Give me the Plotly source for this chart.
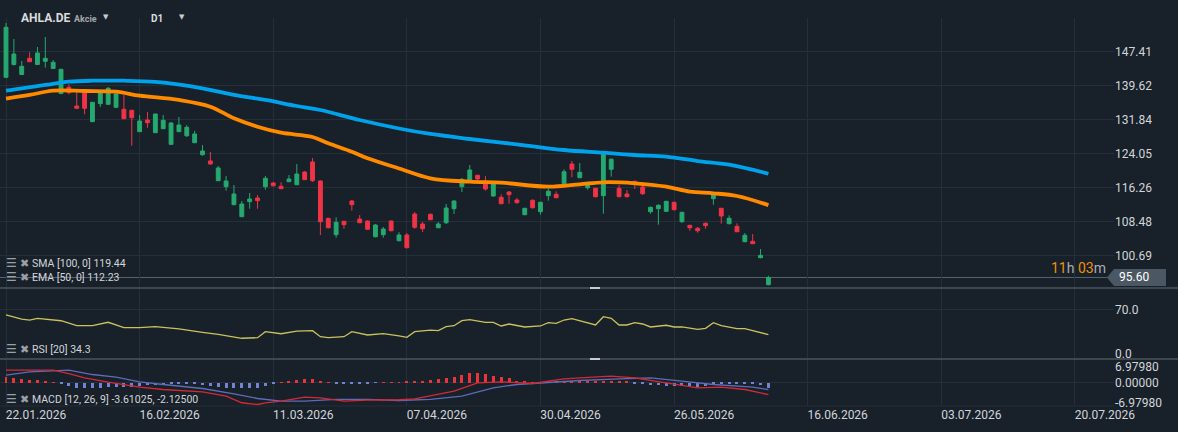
import plotly.graph_objects as go
from plotly.subplots import make_subplots

# ---------------- data ----------------
bars = list(range(98))
opens = [141.60,144.54,142.24,145.96,144.54,145.27,143.62,137.87,139.30,135.00,
         137.99,131.40,135.53,135.39,134.70,134.24,134.01,129.10,131.78,128.87,
         129.78,126.20,129.10,128.17,126.57,123.81,122.37,117.83,116.46,112.32,
         109.56,113.01,113.86,116.46,117.31,116.55,117.61,116.92,119.83,122.14,
         117.77,109.19,105.43,108.51,113.17,109.03,108.57,104.96,105.43,108.57,
         104.05,105.36,110.18,107.88,110.11,107.03,108.18,111.40,116.46,117.70,
         119.08,117.38,114.32,114.02,115.24,113.40,110.02,113.33,110.71,114.39,
         114.71,117.15,121.67,118.52,116.23,116.09,114.39,120.45,116.09,114.78,
         117.70,116.39,110.71,111.40,110.80,112.87,108.41,107.58,106.90,108.05,
         113.70,111.49,107.96,107.35,103.82,103.91,100.14,93.94]
highs = [154.07,150.40,145.34,147.34,148.56,150.86,145.57,143.50,139.99,138.15,
         138.10,135.90,138.10,139.37,138.00,137.53,134.10,132.93,133.62,133.20,
         132.93,131.30,132.47,130.60,129.30,126.04,124.43,121.21,118.91,116.85,
         113.17,115.01,114.55,118.91,117.54,117.47,119.14,121.67,120.06,123.05,
         117.90,109.30,109.42,108.60,113.40,109.95,108.70,107.90,107.20,108.70,
         106.00,105.82,110.64,108.34,110.30,108.34,112.48,113.30,118.46,121.44,
         119.20,118.91,117.20,114.71,115.47,113.86,111.60,113.56,113.00,116.00,
         115.40,120.45,122.37,121.90,117.50,116.20,124.50,122.98,116.85,115.70,
         117.80,117.47,111.90,112.41,113.20,113.00,110.70,107.70,107.20,108.20,
         115.10,111.60,109.88,108.05,105.82,105.59,102.14,96.00]
lows = [141.40,144.30,142.10,145.10,144.40,143.80,143.50,137.70,137.69,134.40,
        133.10,131.30,134.77,135.30,134.60,132.00,125.88,129.00,130.00,128.80,
        129.70,126.10,129.00,127.88,126.50,123.58,121.53,117.80,115.54,112.20,
        109.50,111.40,111.40,115.77,116.46,115.90,117.50,116.80,118.00,117.54,
        105.36,106.90,104.74,106.80,110.94,108.10,106.50,104.80,104.74,106.20,
        103.90,102.30,106.80,106.04,108.80,106.90,107.88,110.18,115.24,117.60,
        117.83,115.54,114.20,112.40,112.55,112.55,109.90,111.40,110.02,113.24,
        113.80,117.00,118.62,118.40,115.77,114.00,110.25,118.77,114.00,114.00,
        115.93,114.55,110.25,107.73,110.70,111.00,108.18,106.34,105.89,106.80,
        112.32,107.96,107.80,106.00,103.70,103.30,100.00,93.80]
closes = [153.09,146.95,144.12,145.18,147.18,145.96,145.04,143.43,138.06,134.47,
          134.47,135.85,137.99,139.07,137.76,132.08,132.31,131.55,131.16,133.16,
          131.71,131.09,130.63,130.10,128.57,124.66,121.68,120.76,117.77,114.78,
          112.48,113.63,113.24,118.39,116.69,116.00,118.23,119.37,118.07,117.83,
          108.41,107.03,108.28,107.73,112.32,108.18,106.67,107.65,106.73,106.34,
          105.36,102.44,107.12,106.80,108.88,107.88,111.56,113.17,118.16,120.29,
          118.23,115.93,117.08,112.55,114.62,112.78,111.49,111.63,112.87,115.40,
          113.93,119.90,120.45,119.76,117.38,114.16,124.13,122.75,114.16,114.16,
          117.15,114.85,111.72,112.18,113.10,111.17,110.57,107.03,106.34,107.50,
          114.85,109.72,109.19,106.11,105.29,103.36,100.69,95.60]

sma_x = [0, 2, 5, 8, 11, 15, 19, 25, 29, 33, 37, 40, 45, 50, 54, 59, 65, 71, 76, 80, 84, 88, 92, 97]
sma_v = [138.52, 139.07, 139.83, 140.58, 140.81, 140.81, 140.52, 139.07, 137.53, 136.38, 135.00, 134.08,
         131.78, 129.83, 128.57, 127.42, 126.20, 124.89, 124.27, 123.74, 123.35, 122.36, 121.51, 119.44]

ema_x = [0, 3, 6, 10, 14, 17, 22, 26, 29, 32, 35, 39, 41, 44, 46, 50, 54, 59, 63, 69, 73, 76, 80, 84, 87, 90, 93, 97]
ema_v = [136.68, 137.53, 138.52, 138.45, 138.29, 137.37, 136.38, 134.84, 132.17, 130.24, 128.86, 127.88,
         126.43, 124.50, 122.98, 120.64, 118.39, 117.61, 117.38, 116.46, 117.01, 117.47, 117.24, 116.46,
         115.31, 114.94, 114.32, 112.23]

rsi_x = [0, 2, 3, 4, 7, 9, 11, 13, 15, 17, 19, 22, 25, 27, 30, 32, 33, 35, 37, 39, 40, 41, 43, 44, 46, 48,
         50, 51, 52, 54, 55, 56, 57, 58, 59, 61, 62, 63, 64, 66, 68, 69, 70, 71, 72, 73, 75, 76, 77, 78, 79,
         80, 81, 82, 84, 85, 86, 88, 89, 90, 91, 93, 94, 95, 97]
rsi_v = [62.0, 56.3, 54.9, 57.3, 53.9, 46.9, 46.9, 51.7, 44.1, 44.1, 45.5, 42.3, 37.6, 34.8, 29.2, 30.0,
         38.5, 35.6, 39.4, 39.9, 31.4, 30.0, 31.4, 38.5, 33.8, 35.6, 32.6, 30.6, 38.5, 40.8, 39.9, 45.5,
         46.9, 53.9, 55.4, 51.7, 51.7, 46.5, 49.3, 45.1, 46.5, 51.1, 50.3, 54.9, 56.8, 53.9, 47.9, 59.6,
         57.3, 47.9, 47.9, 51.1, 49.3, 45.1, 47.5, 45.1, 45.1, 41.8, 43.2, 51.1, 46.9, 42.7, 42.7, 39.9, 34.3]

macd_x = [0, 6, 8, 10, 13, 17, 20, 25, 28, 30, 32, 33, 35, 38, 40, 43, 46, 50, 52, 54, 57, 60, 63, 67,
          71, 73, 77, 80, 84, 88, 91, 94, 97]
macd_v = [3.65, 3.65, 2.67, 1.39, 0.09, -1.39, -2.08, -2.76, -4.07, -6.02, -6.53, -6.02, -5.55, -4.36,
          -4.54, -5.55, -5.25, -5.13, -4.84, -3.86, -2.58, -0.09, 0.21, -0.30, 1.10, 1.39, 1.87, 1.39,
          -0.09, -1.57, -1.39, -2.08, -3.61]
signal_x = [0, 3, 8, 11, 14, 17, 20, 25, 29, 32, 35, 38, 42, 46, 50, 54, 58, 62, 65, 69, 73, 78, 82, 86,
            90, 95, 97]
signal_v = [2.17, 3.18, 3.65, 2.37, 1.57, 0.21, -0.59, -1.78, -3.35, -4.75, -5.55, -5.55, -5.04, -5.04,
            -5.34, -5.04, -4.07, -1.57, -0.59, 0.09, 0.59, 1.10, 1.39, 0.39, -0.59, -1.39, -2.125]
hist_v = [1.68, 1.19, 0.99, 0.69, 0.69, 0.40, 0.10, -0.30, -0.99, -1.49,
          -1.78, -1.78, -1.49, -1.29, -1.29, -1.29, -1.29, -0.99, -0.79, -0.69,
          -0.69, -0.50, -0.50, -0.40, -0.50, -0.79, -0.99, -1.29, -1.49, -1.78,
          -1.78, -1.78, -1.49, -0.99, -0.50, 0.05, 0.30, 0.69, 0.99, 0.99,
          0.50, 0.05, -0.30, -0.30, -0.30, -0.30, -0.30, -0.05, 0.05, 0.10,
          0.10, 0.20, 0.30, 0.50, 0.79, 0.99, 1.29, 1.78, 2.18, 2.77,
          2.77, 2.38, 2.08, 1.58, 1.19, 0.59, 0.30, 0.10, 0.05, 0.20,
          0.30, 0.40, 0.40, 0.40, 0.30, 0.40, 0.40, 0.40, 0.30, 0.20,
          -0.20, -0.20, -0.70, -0.70, -1.00, -1.00, -1.00, -1.00, -1.30, -1.00,
          -0.50, -0.50, -0.30, -0.50, -0.50, -0.50, -0.70, -1.49]

tick_pos = [0, 17, 34, 51, 68, 85, 102, 119, 136]
tick_dates = ["22.01.2026", "16.02.2026", "11.03.2026", "07.04.2026", "30.04.2026",
              "26.05.2026", "16.06.2026", "03.07.2026", "20.07.2026"]
price_ticks = [100.69, 108.48, 116.26, 124.05, 131.84, 139.62, 147.41]
last_price = 95.60
macd_lim = 6.9798

# ---------------- layout geometry ----------------
W, H = 1178, 432
ML, MR, MT, MB = 0, 64, 18, 26
PW = W - ML - MR
PH = H - MT - MB


def px(xp):
    return (xp - ML) / PW


def py(yp):
    return (H - MB - yp) / PH


BG = "#182029"
GRID = "#252f39"
SEP = "#4a545e"
TXT = "#d2d5d9"
FONT = "Roboto"
GREEN = "#26a96f"
RED = "#ee3446"

fig = make_subplots(rows=3, cols=1, shared_xaxes=True, vertical_spacing=0,
                    row_heights=[270, 71, 47])

fig.add_trace(go.Scatter(x=sma_x, y=sma_v, mode="lines", line=dict(color="#00a2ec", width=3.8, shape="spline"),
                         hoverinfo="skip"), row=1, col=1)
fig.add_trace(go.Scatter(x=ema_x, y=ema_v, mode="lines", line=dict(color="#ff8a00", width=3.8, shape="spline"),
                         hoverinfo="skip"), row=1, col=1)
fig.add_trace(go.Candlestick(x=bars, open=opens, high=highs, low=lows, close=closes,
                             increasing=dict(line=dict(color=GREEN, width=1), fillcolor=GREEN),
                             decreasing=dict(line=dict(color=RED, width=1), fillcolor=RED),
                             whiskerwidth=0), row=1, col=1)

fig.add_trace(go.Scatter(x=rsi_x, y=rsi_v, mode="lines", line=dict(color="#cbc25e", width=1.3),
                         hoverinfo="skip"), row=2, col=1)

fig.add_trace(go.Bar(x=bars, y=hist_v, width=0.38,
                     marker=dict(color=["#e8353a" if v >= 0 else "#7282d4" for v in hist_v], line=dict(width=0)),
                     hoverinfo="skip"), row=3, col=1)
fig.add_trace(go.Scatter(x=signal_x, y=signal_v, mode="lines", line=dict(color="#5d6cb8", width=1.3),
                         hoverinfo="skip"), row=3, col=1)
fig.add_trace(go.Scatter(x=macd_x, y=macd_v, mode="lines", line=dict(color="#d42a35", width=1.3),
                         hoverinfo="skip"), row=3, col=1)

# dummy traces for overlay label axes
fig.add_trace(go.Scatter(x=[None], y=[None], xaxis="x3", yaxis="y4", hoverinfo="skip"))
fig.add_trace(go.Scatter(x=[None], y=[None], xaxis="x3", yaxis="y5", hoverinfo="skip"))
fig.add_trace(go.Scatter(x=[None], y=[None], xaxis="x2", yaxis="y6", hoverinfo="skip"))

xr = [(0 - 6) / 7.86, (PW - 6) / 7.86]
tickfont = dict(family=FONT, size=12, color=TXT)
for i in (1, 2, 3):
    fig.update_xaxes(row=i, col=1, range=xr, showgrid=True, gridcolor=GRID, gridwidth=1,
                     tickvals=tick_pos, ticktext=tick_dates, zeroline=False, showline=False,
                     ticks="", rangeslider=dict(visible=False), fixedrange=True)
fig.update_xaxes(row=3, col=1, showticklabels=True, tickfont=tickfont, ticklabelshift=30)

fig.update_yaxes(row=1, col=1, range=[93.18, 155.22], side="right", tickvals=price_ticks,
                 ticktext=[f"{v:.2f}" for v in price_ticks], showgrid=True, gridcolor=GRID,
                 zeroline=False, ticks="", tickfont=tickfont)
fig.update_yaxes(row=2, col=1, range=[0, 100], side="right", tickvals=[70], ticktext=["70.0"],
                 showgrid=True, gridcolor=GRID, zeroline=False, ticks="", tickfont=tickfont)
fig.update_yaxes(row=3, col=1, range=[-macd_lim, macd_lim], side="right", tickvals=[0],
                 ticktext=["0.00000"], showgrid=True, gridcolor=GRID, zeroline=False, ticks="",
                 tickfont=tickfont)

fig.update_layout(
    yaxis4=dict(overlaying="y3", anchor="x3", side="right", range=[-macd_lim, macd_lim],
                tickvals=[macd_lim], ticktext=["6.97980"], showgrid=False, zeroline=False, ticks="",
                tickfont=tickfont, ticklabelshift=8),
    yaxis5=dict(overlaying="y3", anchor="x3", side="right", range=[-macd_lim, macd_lim],
                tickvals=[-macd_lim], ticktext=["-6.97980"], showgrid=False, zeroline=False, ticks="",
                tickfont=tickfont, ticklabelshift=-3),
    yaxis6=dict(overlaying="y2", anchor="x2", side="right", range=[0, 100],
                tickvals=[0], ticktext=["0.0"], showgrid=False, zeroline=False, ticks="",
                tickfont=tickfont, ticklabelshift=-5),
)

shapes = []
# bottom grid line of the MACD pane
shapes.append(dict(type="line", xref="paper", yref="paper", x0=0, x1=1, y0=py(406), y1=py(406),
                   line=dict(color=GRID, width=1)))
# pane separators
for yy in (288, 359):
    shapes.append(dict(type="line", xref="paper", yref="paper", x0=0, x1=W / PW, y0=py(yy), y1=py(yy),
                       line=dict(color=SEP, width=1.5), layer="above"))
    shapes.append(dict(type="rect", xref="paper", yref="paper", x0=px(590), x1=px(600),
                       y0=py(yy + 1), y1=py(yy - 1), fillcolor="#c9cacc", line=dict(width=0), layer="above"))
# last price line and tag
shapes.append(dict(type="line", xref="paper", yref="y", x0=0, x1=1, y0=last_price, y1=last_price,
                   line=dict(color="#59636d", width=1), layer="below"))
shapes.append(dict(type="path", xref="paper", yref="y", xsizemode="pixel", ysizemode="pixel",
                   xanchor=1, yanchor=last_price,
                   path="M -7 0 L 0 8.5 L 52 8.5 L 52 -8.5 L 0 -8.5 Z",
                   fillcolor="#4b5864", line=dict(width=0), layer="above"))
fig.update_layout(shapes=shapes)

ann = []


def label(x, y, text, size=11, color=TXT, anchor="left", weight="normal", family=FONT):
    ann.append(dict(x=px(x), y=py(y), xref="paper", yref="paper", text=text, showarrow=False,
                    xanchor=anchor, yanchor="middle",
                    font=dict(family=family, size=size, color=color, weight=weight)))


label(19, 18, "AHLA.DE", size=12, color="#dadcde", weight="bold")
label(72, 19.5, "Akcie", size=9, color="#a3a7ab", weight="bold")
label(101, 16.5, "▼", size=7, color="#c8ccd0", family="DejaVu Sans")
label(149, 19, "D1", size=10, color="#dadcde", weight="bold")
label(177, 16.5, "▼", size=7, color="#c8ccd0", family="DejaVu Sans")

legend_rows = [(263, "SMA [100, 0] 119.44"), (277, "EMA [50, 0] 112.23"), (349, "RSI [20] 34.3"),
               (399, "MACD [12, 26, 9] -3.61025, -2.12500")]
for yy, txt in legend_rows:
    label(4, yy, "☰", size=12, color="#9aa0a6", family="DejaVu Sans")
    label(18, yy, "✖", size=11, color="#9aa0a6", family="DejaVu Sans")
    label(30, yy, txt, size=10.5)

ann.append(dict(x=1, y=last_price, xref="paper", yref="y", text="95.60", showarrow=False,
                xanchor="left", yanchor="middle", xshift=3,
                font=dict(family=FONT, size=12, color="#ffffff")))
ann.append(dict(x=1, y=last_price, xref="paper", yref="y",
                text="<span style='color:#f0900c'>11</span>h <span style='color:#f0900c'>03</span>m",
                showarrow=False, xanchor="right", yanchor="middle", xshift=-6, yshift=9,
                font=dict(family=FONT, size=14, color="#a9adb2")))

fig.update_layout(
    width=W, height=H, paper_bgcolor=BG, plot_bgcolor=BG,
    margin=dict(l=ML, r=MR, t=MT, b=MB), showlegend=False,
    annotations=ann, bargap=0, hovermode=False,
    font=dict(family=FONT, color=TXT),
)

fig.write_html("out.html")
